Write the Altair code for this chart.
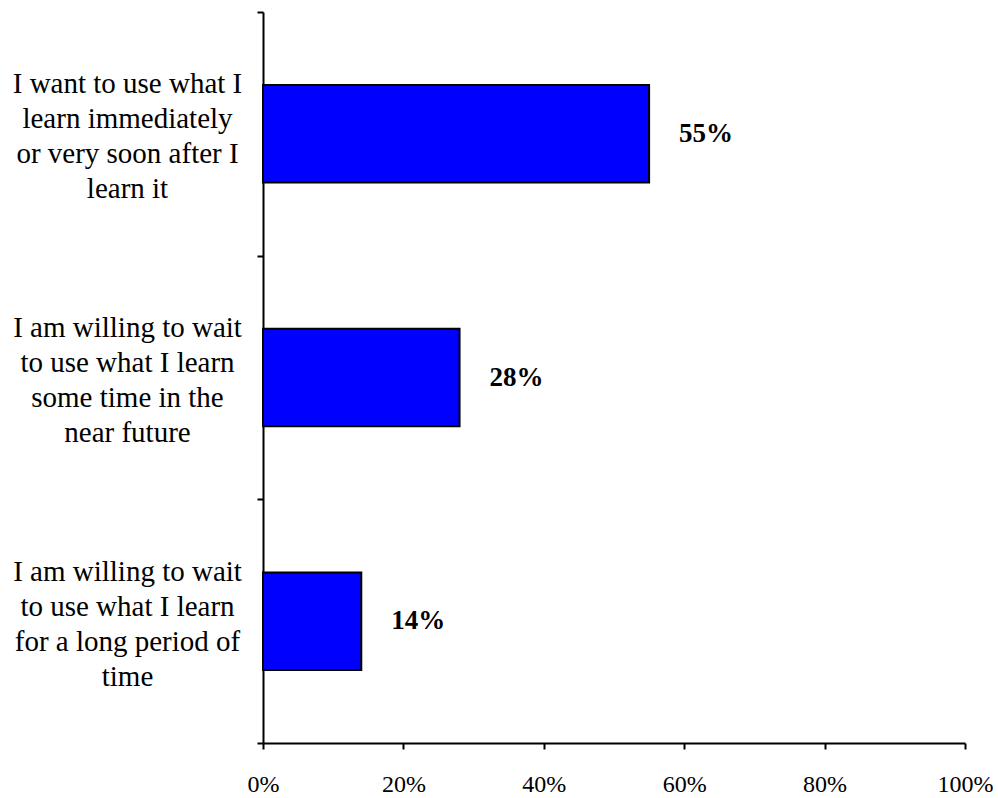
import altair as alt
import pandas as pd

categories = [
    "I want to use what I|learn immediately|or very soon after I|learn it",
    "I am willing to wait|to use what I learn|some time in the|near future",
    "I am willing to wait|to use what I learn|for a long period of|time",
]
values = [0.55, 0.28, 0.14]
value_labels = ["55%", "28%", "14%"]

df = pd.DataFrame({"cat": categories, "val": values, "lab": value_labels})

FONT = "Liberation Serif"

y_enc = alt.Y(
    "cat:N",
    sort=categories,
    scale=alt.Scale(paddingInner=0, paddingOuter=0),
    axis=alt.Axis(
        title=None,
        labelExpr="split(datum.label, '|')",
        labelAlign="center",
        labelBaseline="middle",
        labelPadding=130,
        labelOffset=-50,
        labelFontSize=29,
        labelFont=FONT,
        labelColor="black",
        labelLineHeight=35,
        labelLimit=400,
        tickBand="extent",
        tickSize=6,
        tickColor="black",
        tickWidth=2,
        domainColor="black",
        domainWidth=2,
        grid=False,
    ),
)

x_enc = alt.X(
    "val:Q",
    scale=alt.Scale(domain=[0, 1], nice=False),
    axis=alt.Axis(
        title=None,
        values=[0, 0.2, 0.4, 0.6, 0.8, 1.0],
        format=".0%",
        labelFontSize=24,
        labelFont=FONT,
        labelColor="black",
        labelPadding=23,
        tickSize=6,
        tickColor="black",
        tickWidth=2,
        domainColor="black",
        domainWidth=2,
        grid=False,
        labelFlush=False,
    ),
)

bars = alt.Chart(df).mark_bar(
    color="#0000FF", stroke="black", strokeWidth=2, height=alt.RelativeBandSize(0.4)
).encode(x=x_enc, y=y_enc)

text = alt.Chart(df).mark_text(
    align="left", baseline="middle", dx=30, font=FONT, fontSize=27, fontWeight="bold", color="black"
).encode(
    x=alt.X("val:Q"),
    y=alt.Y("cat:N", sort=categories),
    text="lab:N",
)

chart = (
    (bars + text)
    .properties(
        width=702,
        height=731,
        background="white",
        autosize=alt.AutoSizeParams(type="none"),
        padding={"left": 263, "top": 12, "right": 33, "bottom": 55},
    )
    .configure_view(strokeWidth=0, stroke="transparent")
    .configure_axis(grid=False)
)

chart.save("out.html", embed_options={"renderer": "svg", "actions": False})
